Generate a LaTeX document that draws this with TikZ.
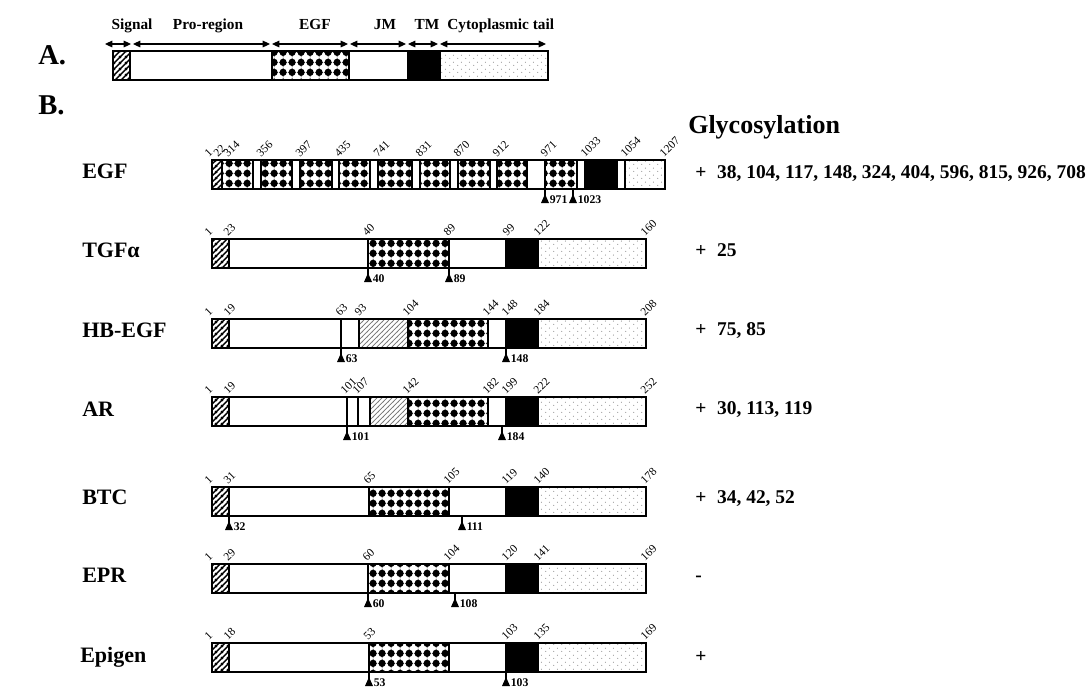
\documentclass[tikz,border=0pt]{standalone}
\usepackage{fontspec}
\setmainfont{Liberation Serif}
\usepackage{graphicx}
\usetikzlibrary{patterns,arrows.meta}

\pgfdeclarepatternformonly{sighatch}{\pgfpointorigin}{\pgfpoint{4.5pt}{4.5pt}}{\pgfpoint{4.5pt}{4.5pt}}{%
  \pgfsetlinewidth{1.2pt}%
  \pgfpathmoveto{\pgfpoint{-1pt}{-1pt}}\pgfpathlineto{\pgfpoint{5.5pt}{5.5pt}}%
  \pgfpathmoveto{\pgfpoint{-1pt}{3.5pt}}\pgfpathlineto{\pgfpoint{1pt}{5.5pt}}%
  \pgfpathmoveto{\pgfpoint{3.5pt}{-1pt}}\pgfpathlineto{\pgfpoint{5.5pt}{1pt}}%
  \pgfusepath{stroke}}
\pgfdeclarepatternformonly{hbhatch}{\pgfpointorigin}{\pgfpoint{4pt}{4pt}}{\pgfpoint{4pt}{4pt}}{%
  \pgfsetlinewidth{0.6pt}%
  \pgfpathmoveto{\pgfpoint{-1pt}{-1pt}}\pgfpathlineto{\pgfpoint{5pt}{5pt}}%
  \pgfpathmoveto{\pgfpoint{-1pt}{3pt}}\pgfpathlineto{\pgfpoint{1pt}{5pt}}%
  \pgfpathmoveto{\pgfpoint{3pt}{-1pt}}\pgfpathlineto{\pgfpoint{5pt}{1pt}}%
  \pgfusepath{stroke}}
\pgfdeclarepatternformonly{egfdots}{\pgfpointorigin}{\pgfpoint{6.75pt}{7.5pt}}{\pgfpoint{6.75pt}{7.5pt}}{%
  \pgfpathcircle{\pgfpoint{3.375pt}{3.75pt}}{2.95pt}\pgfusepath{fill}%
  \pgfsetlinewidth{0.35pt}%
  \pgfpathmoveto{\pgfpoint{0pt}{3.75pt}}\pgfpathlineto{\pgfpoint{6.75pt}{3.75pt}}%
  \pgfpathmoveto{\pgfpoint{3.375pt}{0pt}}\pgfpathlineto{\pgfpoint{3.375pt}{7.5pt}}%
  \pgfusepath{stroke}}
\pgfdeclarepatternformonly{cytdots}{\pgfpointorigin}{\pgfpoint{6pt}{5pt}}{\pgfpoint{6pt}{5pt}}{%
  \pgfpathcircle{\pgfpoint{1.5pt}{1.25pt}}{0.4pt}%
  \pgfpathcircle{\pgfpoint{4.5pt}{3.75pt}}{0.4pt}%
  \pgfusepath{fill}}

\tikzset{
  sig/.style={pattern=sighatch, pattern color=black},
  dot/.style={pattern=egfdots, pattern color=black},
  hb/.style={pattern=hbhatch, pattern color=black!55},
  tm/.style={fill=black},
  cy/.style={pattern=cytdots, pattern color=black!55},
  outl/.style={draw=black, line width=1.7pt},
  divl/.style={draw=black, line width=1pt},
  num/.style={rotate=45, anchor=base west, inner sep=0pt, font=\fontsize{8.6}{9}\selectfont},
  clab/.style={anchor=west, inner sep=0pt, font=\fontsize{8.8}{9}\selectfont\bfseries},
  rowlab/.style={anchor=base west, inner sep=0pt, font=\fontsize{16.5}{18}\selectfont\bfseries},
  glyc/.style={anchor=base west, inner sep=0pt, font=\fontsize{14.6}{16}\selectfont\bfseries},
  head/.style={anchor=base, inner sep=0pt, font=\fontsize{11.5}{12}\selectfont\bfseries},
  part/.style={anchor=base west, inner sep=0pt, font=\fontsize{21.5}{22}\selectfont\bfseries},
  darr/.style={{Triangle[length=5.5pt,width=5pt]}-{Triangle[length=5.5pt,width=5pt]}, line width=0.8pt},
  stem/.style={line width=1pt},
}

\newcommand\rt{0}
\newcommand\rb{0}
\newcommand\setrow[1]{\renewcommand\rt{#1}\renewcommand\rb{#1+29}}
\newcommand\sg[3]{\path[#3] (#1,\rt) rectangle (#2,\rb);}
\newcommand\dv[1]{\draw[divl] (#1,\rt) -- (#1,\rb);}
\newcommand\nm[3]{\node[num] (#1) at (#2,\rt-2) {#3};}
\newcommand\clv[3]{\draw[stem] (#2,\rb) -- (#2,\rb+14);
  \fill (#2-4,\rb+14) -- (#2+4,\rb+14) -- (#2,\rb+5) -- cycle;
  \node[clab] (#1) at (#2+4.5,\rb+10.5) {#3};}

\begin{document}
\begin{tikzpicture}[x=0.75pt,y=-0.75pt]
\useasboundingbox (0,0) rectangle (1091,687);
\fill[white] (0,0) rectangle (1091,687);

% ---------------- Part A
\node[part] (A) at (38,64) {A.};
\node[part] (B) at (38,114) {B.};
\node[head] (hSig) at (132,29) {Signal};
\node[head] (hPro) at (208,29) {Pro-region};
\node[head] (hEGF) at (315,29) {EGF};
\node[head] (hJM) at (385,29) {JM};
\node[head] (hTM) at (427,29) {TM};
\node[head, anchor=base west] (hCyt) at (447,29) {Cytoplasmic tail};
\foreach \n/\x in {a0/105,a1/131,a2/133,a3/270,a4/272,a5/348,a6/350,a7/406,a8/408,a9/438,a10/440,a11/546}
  \coordinate (\n) at (\x,44);
\draw[darr] (a0) -- (a1);
\draw[darr] (a2) -- (a3);
\draw[darr] (a4) -- (a5);
\draw[darr] (a6) -- (a7);
\draw[darr] (a8) -- (a9);
\draw[darr] (a10) -- (a11);

\setrow{51}
\fill[white] (113,\rt) rectangle (548,\rb);
\sg{113}{130}{sig}\sg{272}{349}{dot}\sg{408}{440}{tm}\sg{440}{548}{cy}
\dv{130}\dv{272}\dv{349}\dv{408}\dv{440}
\draw[outl] (113,\rt) rectangle (548,\rb);

% ---------------- Glycosylation heading
\node[anchor=base west, inner sep=0pt, font=\fontsize{19.5}{21}\selectfont\bfseries] (gh) at (688,133) {Glycosylation};

% ---------------- EGF
\setrow{160}
\node[rowlab] (lEGF) at (82,178) {EGF};
\fill[white] (212,\rt) rectangle (665,\rb);
\sg{212}{222}{sig}
\foreach \a/\b in {222/253,261/292,300/332,339/370,378/412,420/450,458/490,497/527,545/577}{\sg{\a}{\b}{dot}}
\sg{585}{617}{tm}\sg{625}{665}{cy}
\foreach \x in {222,253,261,292,300,332,339,370,378,412,420,450,458,490,497,527,545,577,585,617,625}{\dv{\x}}
\draw[outl] (212,\rt) rectangle (665,\rb);
\nm{e1}{209}{1}\nm{e22}{218}{22}\nm{e314}{228}{314}\nm{e356}{261}{356}\nm{e397}{300}{397}
\nm{e435}{339}{435}\nm{e741}{378}{741}\nm{e831}{420}{831}\nm{e870}{458}{870}\nm{e912}{497}{912}
\nm{e971}{545}{971}\nm{e1033}{585}{1033}\nm{e1054}{625}{1054}\nm{e1207}{664}{1207}
\clv{ec971}{545}{971}\clv{ec1023}{573}{1023}
\node[glyc] (gEGF) at (695,178) {+\hspace{0.55em}38, 104, 117, 148, 324, 404, 596, 815, 926, 708};

% ---------------- TGFa
\setrow{239}
\node[rowlab] (lTGF) at (82,257) {TGFα};
\fill[white] (212,\rt) rectangle (646,\rb);
\sg{212}{229}{sig}\sg{368}{449}{dot}\sg{506}{538}{tm}\sg{538}{646}{cy}
\foreach \x in {229,368,449,506,538}{\dv{\x}}
\draw[outl] (212,\rt) rectangle (646,\rb);
\nm{t1}{209}{1}\nm{t23}{228}{23}\nm{t40}{367}{40}\nm{t89}{448}{89}\nm{t99}{507}{99}\nm{t122}{538}{122}\nm{t160}{645}{160}
\clv{tc40}{368}{40}\clv{tc89}{449}{89}
\node[glyc] (gTGF) at (695,256) {+\hspace{0.55em}25};

% ---------------- HB-EGF
\setrow{319}
\node[rowlab] (lHB) at (82,337) {HB-EGF};
\fill[white] (212,\rt) rectangle (646,\rb);
\sg{212}{229}{sig}\sg{359}{408}{hb}\sg{408}{488}{dot}\sg{506}{538}{tm}\sg{538}{646}{cy}
\foreach \x in {229,341,359,408,488,506,538}{\dv{\x}}
\draw[outl] (212,\rt) rectangle (646,\rb);
\nm{h1}{209}{1}\nm{h19}{228}{19}\nm{h63}{340}{63}\nm{h93}{359}{93}\nm{h104}{407}{104}\nm{h144}{487}{144}\nm{h148}{506}{148}\nm{h184}{538}{184}\nm{h208}{645}{208}
\clv{hc63}{341}{63}\clv{hc148}{506}{148}
\node[glyc] (gHB) at (695,335) {+\hspace{0.55em}75, 85};

% ---------------- AR
\setrow{397}
\node[rowlab] (lAR) at (82,416) {AR};
\fill[white] (212,\rt) rectangle (646,\rb);
\sg{212}{229}{sig}\sg{370}{408}{hb}\sg{408}{488}{dot}\sg{506}{538}{tm}\sg{538}{646}{cy}
\foreach \x in {229,347,358,370,408,488,506,538}{\dv{\x}}
\draw[outl] (212,\rt) rectangle (646,\rb);
\nm{r1}{209}{1}\nm{r19}{228}{19}\nm{r101}{345}{101}\nm{r107}{357}{107}\nm{r142}{407}{142}\nm{r182}{487}{182}\nm{r199}{506}{199}\nm{r222}{538}{222}\nm{r252}{645}{252}
\clv{rc101}{347}{101}\clv{rc184}{502}{184}
\node[glyc] (gAR) at (695,414) {+\hspace{0.55em}30, 113, 119};

% ---------------- BTC
\setrow{487}
\node[rowlab] (lBTC) at (82,504) {BTC};
\fill[white] (212,\rt) rectangle (646,\rb);
\sg{212}{229}{sig}\sg{369}{449}{dot}\sg{506}{538}{tm}\sg{538}{646}{cy}
\foreach \x in {229,369,449,506,538}{\dv{\x}}
\draw[outl] (212,\rt) rectangle (646,\rb);
\nm{b1}{209}{1}\nm{b31}{228}{31}\nm{b65}{368}{65}\nm{b105}{448}{105}\nm{b119}{506}{119}\nm{b140}{538}{140}\nm{b178}{645}{178}
\clv{bc32}{229}{32}\clv{bc111}{462}{111}
\node[glyc] (gBTC) at (695,503) {+\hspace{0.55em}34, 42, 52};

% ---------------- EPR
\setrow{564}
\node[rowlab] (lEPR) at (82,582) {EPR};
\fill[white] (212,\rt) rectangle (646,\rb);
\sg{212}{229}{sig}\sg{368}{449}{dot}\sg{506}{538}{tm}\sg{538}{646}{cy}
\foreach \x in {229,368,449,506,538}{\dv{\x}}
\draw[outl] (212,\rt) rectangle (646,\rb);
\nm{p1}{209}{1}\nm{p29}{228}{29}\nm{p60}{367}{60}\nm{p104}{448}{104}\nm{p120}{506}{120}\nm{p141}{538}{141}\nm{p169}{645}{169}
\clv{pc60}{368}{60}\clv{pc108}{455}{108}
\node[glyc] (gEPR) at (695,581) {-};

% ---------------- Epigen
\setrow{643}
\node[rowlab] (lEpi) at (80,662) {Epigen};
\fill[white] (212,\rt) rectangle (646,\rb);
\sg{212}{229}{sig}\sg{369}{449}{dot}\sg{506}{538}{tm}\sg{538}{646}{cy}
\foreach \x in {229,369,449,506,538}{\dv{\x}}
\draw[outl] (212,\rt) rectangle (646,\rb);
\nm{g1}{209}{1}\nm{g18}{228}{18}\nm{g53}{368}{53}\nm{g103}{506}{103}\nm{g135}{538}{135}\nm{g169}{645}{169}
\clv{gc53}{369}{53}\clv{gc103}{506}{103}
\node[glyc] (gEpi) at (695,662) {+};
\end{tikzpicture}
\end{document}
